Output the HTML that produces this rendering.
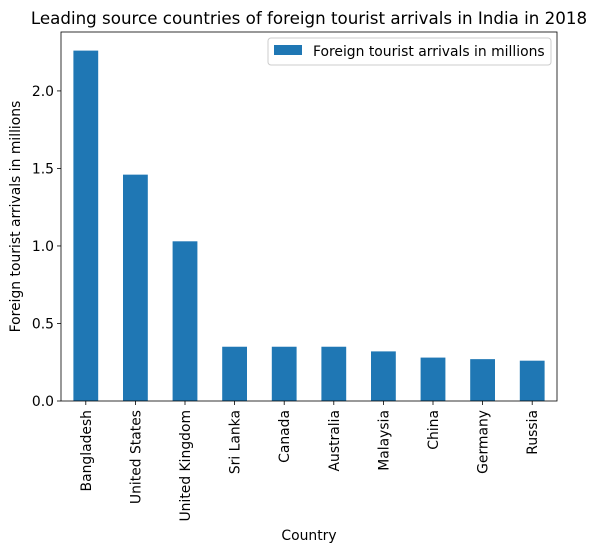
<!DOCTYPE html>
<html><head><meta charset="utf-8"><style>
body{margin:0;background:#fff;font-family:"Liberation Sans","DejaVu Sans",sans-serif;}
</style></head><body>
<svg id="chart" width="596" height="552" xmlns="http://www.w3.org/2000/svg" font-family="DejaVu Sans, Liberation Sans, sans-serif"></svg>
<script>
const categories=["Bangladesh","United States","United Kingdom","Sri Lanka","Canada","Australia","Malaysia","China","Germany","Russia"];
const values=[2.26,1.46,1.03,0.35,0.35,0.35,0.32,0.28,0.27,0.26];
const yTicks=[0,0.5,1.0,1.5,2.0];
const yTickLabels=["0.0","0.5","1.0","1.5","2.0"];
const svg=document.getElementById('chart');
const NS="http://www.w3.org/2000/svg";
const L=61,R=557,T=32,B=401,yMax=2.38;
const FS=13.9;
const y=v=>B-(v/yMax)*(B-T);
const band=(R-L)/categories.length;
const x=i=>L+band*(i+0.5);
function mk(t,a,txt){const e=document.createElementNS(NS,t);for(const k in a)e.setAttribute(k,a[k]);if(txt!==undefined)e.textContent=txt;svg.appendChild(e);return e;}
let e=mk('text',{x:(L+R)/2,y:24,'text-anchor':'middle','font-size':16.7,fill:'#000'},"Leading source countries of foreign tourist arrivals in India in 2018");


categories.forEach((c,i)=>{
 const b=mk('rect',{x:x(i)-band*0.25,y:y(values[i]),width:band*0.5,height:B-y(values[i]),fill:'#1f77b4'});
 
 
 mk('line',{x1:x(i),x2:x(i),y1:B,y2:B+4,stroke:'#000','stroke-width':0.8});
 const t=mk('text',{x:0,y:0,transform:`translate(${x(i)+5},${B+9}) rotate(-90)`,'text-anchor':'end','font-size':FS,fill:'#000'},c);
 
 
});
yTicks.forEach((v,i)=>{
 mk('line',{x1:L-4,x2:L,y1:y(v),y2:y(v),stroke:'#000','stroke-width':0.8});
 const t=mk('text',{x:L-7,y:y(v)+5,'text-anchor':'end','font-size':FS,fill:'#000'},yTickLabels[i]);
 
 
});
e=mk('rect',{x:L,y:T,width:R-L,height:B-T,fill:'none',stroke:'#000','stroke-width':0.8});


e=mk('text',{x:(L+R)/2,y:540,'text-anchor':'middle','font-size':FS,fill:'#000'},"Country");


e=mk('text',{x:0,y:0,transform:`translate(20,${(T+B)/2}) rotate(-90)`,'text-anchor':'middle','font-size':FS,fill:'#000'},"Foreign tourist arrivals in millions");


e=mk('rect',{x:268,y:38,width:283,height:27,fill:'#fff',stroke:'#ccc',rx:3});


e=mk('rect',{x:274,y:45,width:28,height:10,fill:'#1f77b4'});


e=mk('text',{x:313,y:56,'font-size':FS,fill:'#000'},"Foreign tourist arrivals in millions");


</script>
</body></html>
